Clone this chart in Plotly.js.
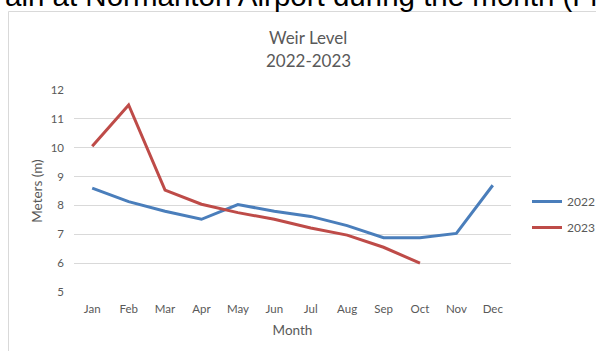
<!DOCTYPE html>
<html>
<head>
<meta charset="utf-8">
<script src="https://cdn.plot.ly/plotly-3.0.1.min.js"></script>
<style>html,body{margin:0;padding:0;background:#fff;}#chart{width:596px;height:351px;}</style>
</head>
<body>
<div id="chart"></div>
<script>
const months = ["Jan","Feb","Mar","Apr","May","Jun","Jul","Aug","Sep","Oct","Nov","Dec"];
const level2022 = [8.6, 8.13, 7.8, 7.52, 8.03, 7.8, 7.62, 7.3, 6.88, 6.88, 7.03, 8.7];
const level2023 = [10.05, 11.48, 8.53, 8.04, 7.75, 7.52, 7.22, 6.97, 6.55, 6.0];
const yTicks = [5, 6, 7, 8, 9, 10, 11, 12];

const L = 74, R = 511, T = 90, B = 292;
const px = x => (x - L) / (R - L);
const py = y => (B - y) / (B - T);
const grey = "#595959";
const font = "Lato, 'Open Sans', sans-serif";

const traces = [
  {x: months, y: level2022, name: "2022", type: "scatter", mode: "lines",
   line: {color: "#4a7ebb", width: 3}, legendgroup: "a"},
  {x: months.slice(0, level2023.length), y: level2023, name: "2023", type: "scatter", mode: "lines",
   line: {color: "#be4b48", width: 3}, legendgroup: "b"}
];

const layout = {
  width: 596, height: 351,
  margin: {l: L, r: 596 - R, t: T, b: 351 - B, pad: 0, autoexpand: false},
  paper_bgcolor: "#fff", plot_bgcolor: "#fff",
  showlegend: true,
  legend: {x: px(527), y: py(187), xanchor: "left", yanchor: "top",
           font: {family: font, size: 12, color: grey}, tracegroupgap: 7,
           bgcolor: "rgba(0,0,0,0)"},
  xaxis: {type: "category", categoryarray: months, range: [-0.5, 11.5],
          showgrid: false, zeroline: false, showline: false, ticks: "",
          ticklabelstandoff: 8, automargin: false,
          tickfont: {family: font, size: 11.5, color: grey},
          title: {text: "Month", font: {family: font, size: 13.5, color: grey}, standoff: 12}},
  yaxis: {range: [5, 12], tickvals: yTicks, ticktext: yTicks.map(String),
          showgrid: true, gridcolor: "#d9d9d9", gridwidth: 1, zeroline: false,
          showline: false, ticks: "", ticklabelstandoff: 9, automargin: false,
          tickfont: {family: font, size: 11.5, color: grey},
          title: {text: "Meters (m)", font: {family: font, size: 13.5, color: grey}, standoff: 4}},
  annotations: [
    {xref: "paper", yref: "paper", x: px(308), y: py(37), xanchor: "center", yanchor: "middle",
     showarrow: false, text: "Weir Level", font: {family: font, size: 17, color: grey}},
    {xref: "paper", yref: "paper", x: px(308), y: py(60), xanchor: "center", yanchor: "middle",
     showarrow: false, text: "2022-2023", font: {family: font, size: 17, color: grey}},
    {xref: "paper", yref: "paper", x: px(3), y: py(14), xanchor: "left", yanchor: "bottom",
     showarrow: false, text: "ain at Normanton Airport during the month (Fi",
     font: {family: "'Liberation Sans', Arial, sans-serif", size: 29.5, color: "#000"}}
  ],
  shapes: [
    {type: "rect", xref: "paper", yref: "paper", x0: px(8.5), y0: py(11.5), x1: px(700), y1: py(450),
     line: {color: "#d9d9d9", width: 1}, fillcolor: "rgba(0,0,0,0)", layer: "below"}
  ]
};

Plotly.newPlot("chart", traces, layout, {displayModeBar: false, staticPlot: true});
</script>
</body>
</html>
